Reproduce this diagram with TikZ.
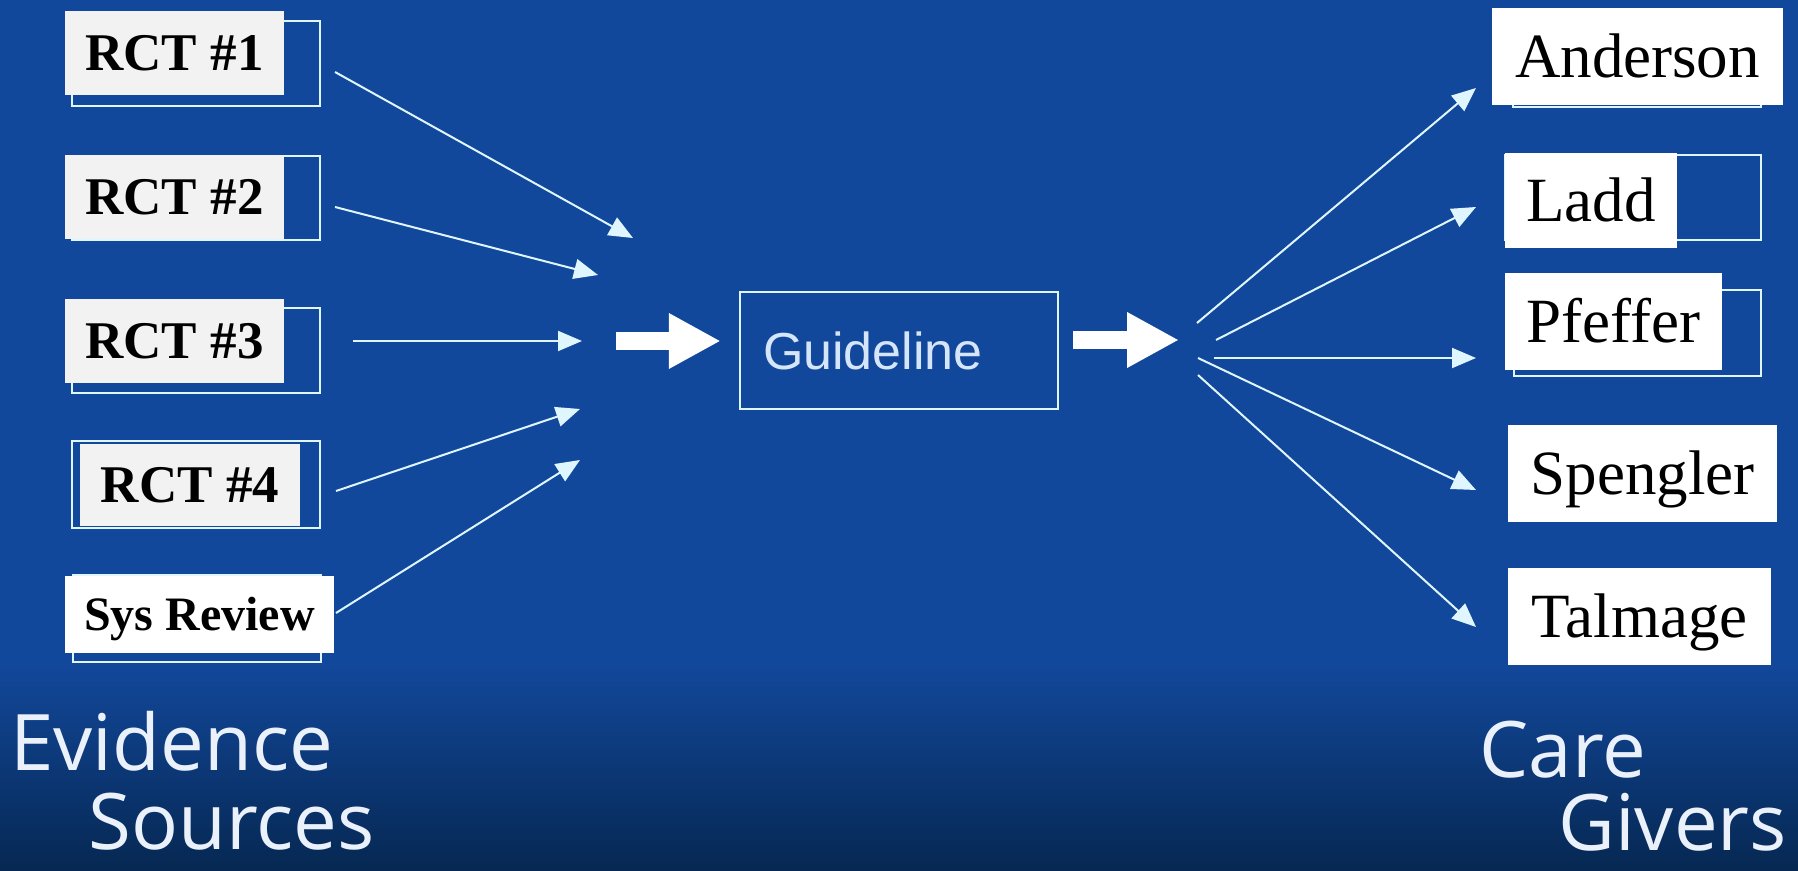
\documentclass[tikz,border=0pt]{standalone}
\usepackage{fontspec}
\setmainfont{Liberation Serif}
\newfontfamily\guidefont{Liberation Sans}
\newfontfamily\capfont{Open Sans}
\usetikzlibrary{arrows.meta,calc}
\definecolor{slideblue}{RGB}{18,72,156}
\definecolor{slidenavy}{RGB}{6,40,82}
\definecolor{framecol}{RGB}{224,246,255}
\definecolor{paper}{RGB}{242,242,242}
\definecolor{guidetext}{RGB}{214,230,250}
\definecolor{captext}{RGB}{234,241,250}

\begin{document}
\begin{tikzpicture}[x=0.5pt,y=-0.5pt,
	frame/.style={draw=framecol, line width=1.4pt, inner sep=0pt},
	study/.style={fill=paper, text=black, inner sep=0pt, minimum width=109.5pt, minimum height=42pt,
		font=\fontsize{26.5}{30}\selectfont\bfseries, text height=17.5pt, text depth=0pt},
	carer/.style={fill=white, text=black, inner sep=0pt, minimum height=48.5pt,
		font=\fontsize{31.5}{36}\selectfont, text height=21pt, text depth=0pt},
	link/.style={draw=framecol, line width=1pt, -{Triangle[length=12pt,width=10pt]}},
	bigarrow/.style={draw=white, line width=9pt, -{Triangle[length=26pt,width=26pt]}},
	caption/.style={text=captext, inner sep=0pt, anchor=base west, font=\capfont\fontsize{39}{44}\selectfont}]
	\useasboundingbox (0,0) rectangle (1798,871);
	\fill[slideblue] (0,0) rectangle (1798,871);
	\shade[top color=slideblue, bottom color=slidenavy] (0,660) rectangle (1798,871);
	
	\node[frame, minimum width=124pt, minimum height=42.5pt] (f1) at (196,63.5) {};
	\node[frame, minimum width=124pt, minimum height=42pt] (f2) at (196,198) {};
	\node[frame, minimum width=124pt, minimum height=42.5pt] (f3) at (196,350.5) {};
	\node[frame, minimum width=124pt, minimum height=43.5pt] (f4) at (196,484.5) {};
	\node[frame, minimum width=124pt, minimum height=43.5pt] (f5) at (197,618.5) {};
	
	\node[study] (rct1) at (174.5,53) {RCT \#1};
	\node[study] (rct2) at (174.5,197) {RCT \#2};
	\node[study] (rct3) at (174.5,341.5) {RCT \#3};
	\node[study, minimum width=110pt, minimum height=41pt] (rct4) at (190,485) {RCT \#4};
	\node[study, fill=white, minimum width=134.5pt, minimum height=38.5pt,
		font=\fontsize{24}{28}\selectfont\bfseries, text height=16pt] (sysrev) at (199.5,614.5) {Sys Review};
	
	\node[caption] (evid1) at (10,770) {Evidence};
	\node[caption] (evid2) at (88,849) {Sources};
	
	\coordinate (s1) at (335,72);
	\coordinate (s2) at (335,207);
	\coordinate (s3) at (353,341);
	\coordinate (s4) at (336,491);
	\coordinate (s5) at (336,613);
	\coordinate (t1) at (633,238);
	\coordinate (t2) at (598,275);
	\coordinate (t3) at (582,341);
	\coordinate (t4) at (580,409);
	\coordinate (t5) at (580,460);
	\draw[link] (s1) -- (t1);
	\draw[link] (s2) -- (t2);
	\draw[link] (s3) -- (t3);
	\draw[link] (s4) -- (t4);
	\draw[link] (s5) -- (t5);
	
	\node[draw=framecol, line width=1.25pt, minimum width=159pt, minimum height=58.5pt,
		inner xsep=11.5pt, text width=136pt, align=left, text=guidetext,
		font=\guidefont\fontsize{26}{30}\selectfont, text height=18.6pt, text depth=0pt] (guide) at (899,350.5) {Guideline};
	
	\coordinate (hub) at (616,341);
	\coordinate (fan) at (1179,340);
	\draw[bigarrow, shorten >=9pt] (hub) -- (hub -| guide.west);
	\draw[bigarrow, shorten <=7pt] (guide.east |- fan) -- (fan);
	
	\node[frame, minimum width=124pt, minimum height=44.5pt] (fa) at (1637,62.5) {};
	\node[frame, minimum width=128pt, minimum height=42.5pt] (fl) at (1633,197.5) {};
	\node[frame, minimum width=123.5pt, minimum height=43pt] (fp) at (1637.5,333) {};
	
	\node[carer, minimum width=145.5pt] (anderson) at (1637.5,56.5) {Anderson};
	\node[carer, minimum width=86pt, minimum height=47.5pt] (ladd) at (1591,200.5) {Ladd};
	\node[carer, minimum width=108.5pt] (pfeffer) at (1613.5,321.5) {Pfeffer};
	\node[carer, minimum width=134.5pt] (spengler) at (1642.5,473.5) {Spengler};
	\node[carer, minimum width=131.5pt] (talmage) at (1639.5,616.5) {Talmage};
	
	\coordinate (r1) at (1197,323);
	\coordinate (r2) at (1216,340);
	\coordinate (r3) at (1214,358);
	\coordinate (r4) at (1198,358);
	\coordinate (r5) at (1198,375);
	\coordinate (a1) at (1476,88);
	\coordinate (a2) at (1476,207);
	\coordinate (a3) at (1476,358);
	\coordinate (a4) at (1476,490);
	\coordinate (a5) at (1476,627);
	\draw[link] (r1) -- (a1);
	\draw[link] (r2) -- (a2);
	\draw[link] (r3) -- (a3);
	\draw[link] (r4) -- (a4);
	\draw[link] (r5) -- (a5);
	
	\node[caption] (care1) at (1479,777) {Care};
	\node[caption] (care2) at (1558,850) {Givers};
\end{tikzpicture}
\end{document}
